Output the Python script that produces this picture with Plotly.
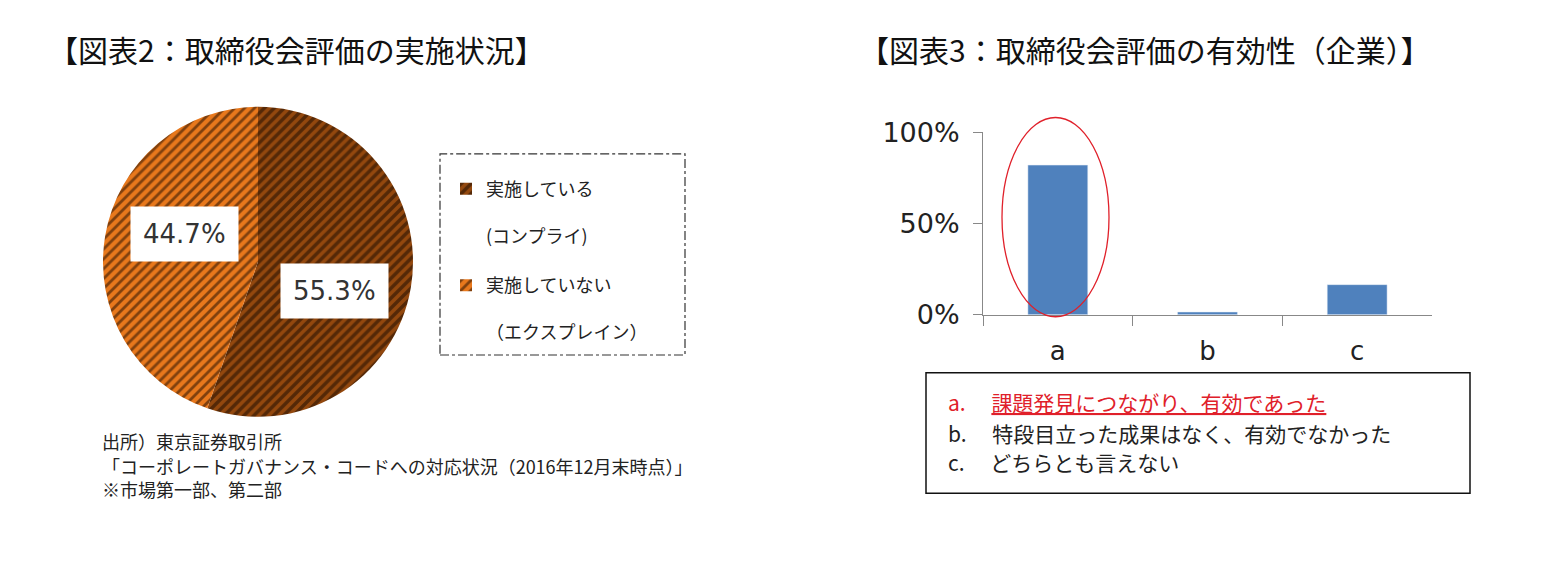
import plotly.graph_objects as go

# 画面に収まるよう body の余白 8px 分を引いたサイズ
W, H = 1532, 554
OFF_X = 8
# 撮影時の縦方向のずれを補正（実測値）
OFF_Y, SY = 19.7, 0.962

# 図表2 データ
pie_labels = ['実施している<br><br>(コンプライ)<br> ', '実施していない<br><br>（エクスプレイン）']
pie_values = [55.3, 44.7]

# 図表3 データ
bar_cats = ['a', 'b', 'c']
bar_values = [0.82, 0.015, 0.165]
bar_notes = ['課題発見につながり、有効であった',
             '特段目立った成果はなく、有効でなかった',
             'どちらとも言えない']

source_lines = ['出所）東京証券取引所',
                '「コーポレートガバナンス・コードへの対応状況（2016年12月末時点）」',
                '※市場第一部、第二部']

FONT = 'Noto Sans CJK JP'
NUMFONT = 'DejaVu Sans'


def px(x):
    return (x - OFF_X) / W


def py(y):
    return 1 - ((y - OFF_Y) / SY) / H


fig = go.Figure()

# 円グラフ
fig.add_trace(go.Pie(
    labels=pie_labels, values=pie_values,
    sort=False, direction='clockwise', rotation=0,
    textinfo='none', hoverinfo='label+percent',
    marker=dict(colors=['#93480E', '#E8781C'],
                line=dict(width=0),
                pattern=dict(shape='/', fgcolor='#150800', size=7,
                             solidity=[0.5, 0.4], fillmode='overlay')),
    domain=dict(x=[px(103), px(413)], y=[py(437), py(87)]),
))

# 棒グラフ
fig.add_trace(go.Bar(
    x=bar_cats, y=bar_values, marker_color='#4F81BD',
    width=0.4, showlegend=False,
))

fig.update_layout(
    width=W, height=H,
    margin=dict(l=0, r=0, t=0, b=0),
    paper_bgcolor='white', plot_bgcolor='white',
    font=dict(family=FONT, color='#222'),
    xaxis=dict(domain=[px(983), px(1432)], showline=True, linecolor='#888',
               ticks='outside', ticklen=10, tickcolor='#888', tickson='boundaries',
               ticklabelstandoff=13,
               tickfont=dict(size=26, color='#222', family=NUMFONT), showgrid=False),
    yaxis=dict(domain=[py(316), py(130)], range=[0, 1], showline=True,
               linecolor='#888', ticks='outside', ticklen=9, tickcolor='#888',
               ticklabelstandoff=8,
               tickvals=[0, 0.5, 1], tickformat='.0%', showgrid=False,
               zeroline=False, tickfont=dict(size=27, color='#222', family=NUMFONT)),
    legend=dict(x=px(446), y=py(169), xanchor='left', yanchor='top', valign='top',
                font=dict(size=18, color='#222'), bgcolor='rgba(0,0,0,0)',
                itemclick=False),
    bargap=0.6,
)

# タイトル
fig.add_annotation(text='【図表2：取締役会評価の実施状況】', x=px(46), y=py(45),
                   xref='paper', yref='paper', xanchor='left', yanchor='middle',
                   showarrow=False, font=dict(size=30, color='#111'))
fig.add_annotation(text='【図表3：取締役会評価の有効性（企業）】', x=px(857), y=py(45),
                   xref='paper', yref='paper', xanchor='left', yanchor='middle',
                   showarrow=False, font=dict(size=30, color='#111'))

# 円グラフのラベル
label_pos = [(334, 292), (184, 234)]
for v, (lx, ly) in zip(pie_values, label_pos):
    fig.add_annotation(text=f'{v:.1f}%', x=px(lx), y=py(ly), xref='paper', yref='paper',
                       xanchor='center', yanchor='middle',
                       showarrow=False, bgcolor='white', borderpad=12,
                       font=dict(size=26, color='#333', family=NUMFONT))

# 凡例の枠
fig.add_shape(type='rect', xref='paper', yref='paper',
              x0=px(440), x1=px(685), y0=py(357), y1=py(152),
              line=dict(color='#333', width=1.2, dash='dashdot'))

# 出所
for line, sy in zip(source_lines, [445, 470, 494]):
    fig.add_annotation(text=line, x=px(100), y=py(sy),
                       xref='paper', yref='paper', xanchor='left', yanchor='middle',
                       showarrow=False, font=dict(size=18, color='#222'))

# 赤い楕円
fig.add_shape(type='circle', xref='paper', yref='paper',
              x0=px(1002), x1=px(1109), y0=py(318), y1=py(115),
              line=dict(color='#E0202A', width=1.3))

# 説明の枠
fig.add_shape(type='rect', xref='paper', yref='paper',
              x0=px(926), x1=px(1470), y0=py(498), y1=py(375),
              line=dict(color='#111', width=1.5))

note_y = [405, 436, 466]
for cat, note, ny in zip(bar_cats, bar_notes, note_y):
    if cat == 'a':
        txt = f'{cat}.　 <u>{note}</u>'
        col = '#E0202A'
    else:
        txt = f'{cat}.　 {note}'
        col = '#222'
    fig.add_annotation(text=txt, x=px(946), y=py(ny), xref='paper', yref='paper',
                       xanchor='left', yanchor='middle', showarrow=False,
                       font=dict(size=21, color=col))

fig.write_html('out.html')
